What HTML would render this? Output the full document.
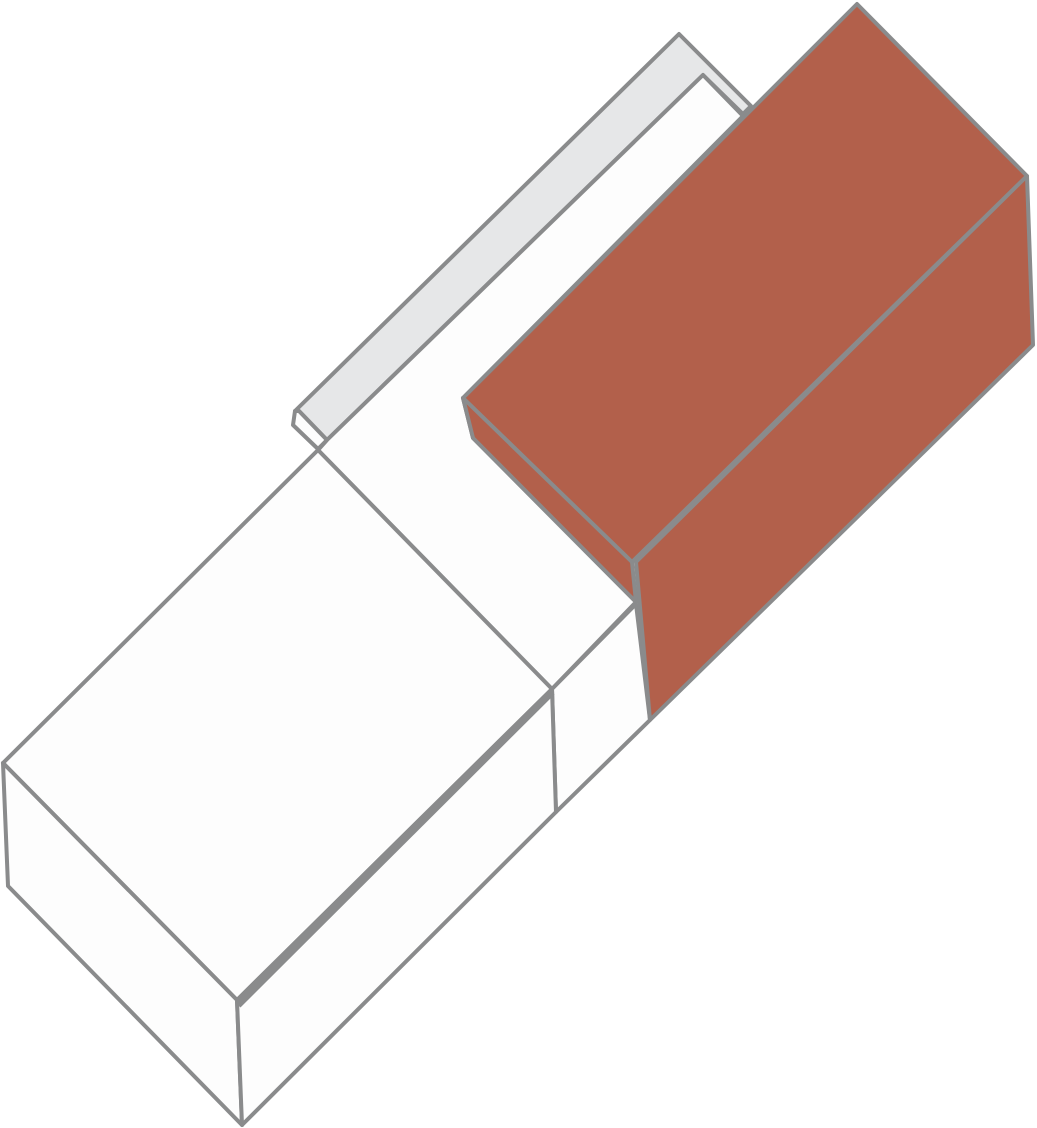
<!DOCTYPE html>
<html><head><meta charset="utf-8"><style>
html,body{margin:0;padding:0;background:#fff;}
svg{display:block;}
</style></head><body>
<svg width="1037" height="1128" viewBox="0 0 1037 1128" xmlns="http://www.w3.org/2000/svg">
<g stroke="#8a8b8c" stroke-width="4" stroke-linejoin="round">
  <polygon fill="#e6e7e8" points="295,411 679,34 751,106 743,114 703,75 327,440 299,411"/>
  <polygon fill="#fdfdfd" points="295,411 299,411 327,440 318,449 293,425"/>
  <polygon fill="#fdfdfd" points="318,450 327,440 703,75 743,116 463,398 473,438 636,602 552,689"/>
  <polygon fill="#fdfdfd" points="552,689 636,604 650,720 556,812"/>
  <polygon fill="#fdfdfd" points="318,450 552,689 237,1000 3,763"/>
  <polygon fill="#fdfdfd" points="3,763 237,1000 242,1125 8,886"/>
  <polygon fill="#fdfdfd" points="237,1000 552,689 556,812 242,1125"/>
  <line x1="552" y1="692" x2="238" y2="1005" stroke-width="7"/>
  <polygon fill="#b2604b" points="857,4 1027,176 632,562 463,398"/>
  <polygon fill="#b2604b" points="1027,176 1033,345 650,720 636,562"/>
  <polygon fill="#b2604b" points="463,398 632,562 636,602 473,438"/>
</g>
</svg>
</body></html>
